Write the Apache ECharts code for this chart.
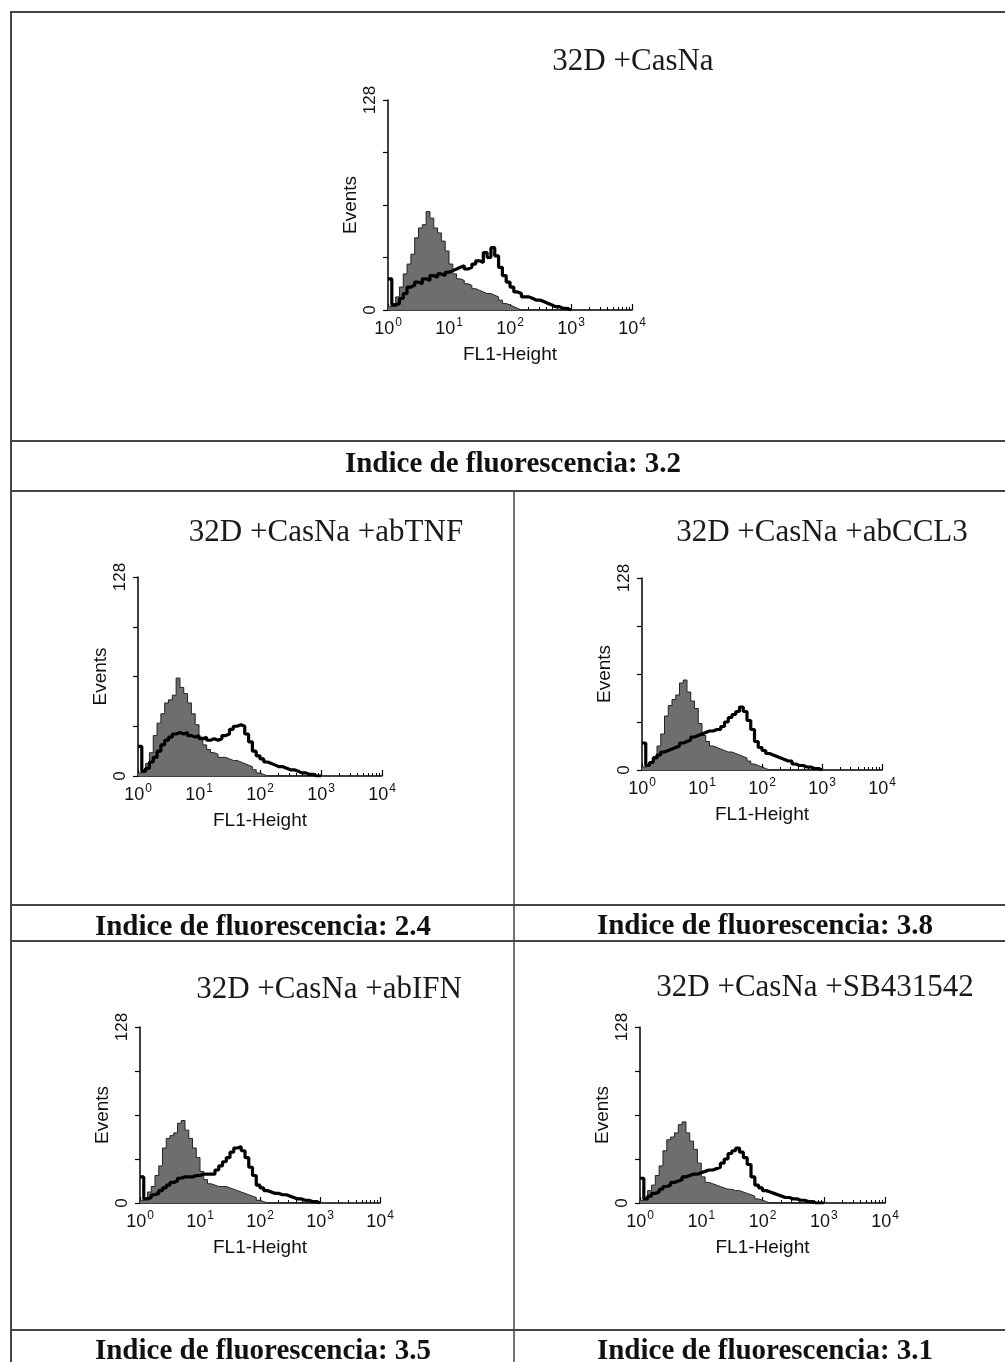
<!DOCTYPE html>
<html>
<head>
<meta charset="utf-8">
<script src="https://cdn.jsdelivr.net/npm/echarts@6/dist/echarts.min.js"></script>
<style>
  html, body { margin: 0; padding: 0; background: #fff; }
  #chart { width: 1005px; height: 1362px; }
</style>
</head>
<body>
<div id="chart"></div>
<script>
// FL1 channels: 16 bins per decade, starting at 10^0; counts
const BINS_PER_DECADE = 16;
const EVENTS_TICKS = [0, 32, 64, 96, 128];
const DECADE_EXPONENTS = [0, 1, 2, 3, 4];

const panel_titles = [
    "32D +CasNa",
    "32D +CasNa +abTNF",
    "32D +CasNa +abCCL3",
    "32D +CasNa +abIFN",
    "32D +CasNa +SB431542",
];
const fluor_index = ["3.2", "2.4", "3.8", "3.5", "3.1"];

// grey filled = control, black outline = stained
const control_casna = [2, 4, 8, 14, 22, 28, 34, 44, 50, 52, 60, 56, 50, 47, 42, 36,
    28, 22, 19, 18, 16, 15, 13, 12, 11, 10, 10, 9, 8, 6, 4, 3,
    2, 1, 0, 0, 0, 0, 0, 0, 0, 0, 0, 0, 0, 0, 0, 0];
const stained_casna = [19, 3, 4, 7, 10, 14, 15, 17, 16, 19, 18, 21, 20, 22, 21, 23,
    24, 25, 26, 27, 25, 26, 28, 30, 29, 35, 32, 38, 33, 26, 21, 17,
    14, 11, 10, 8, 8, 7, 6, 6, 5, 4, 3, 2, 2, 1, 1, 0];

const control_tnf = [2, 4, 8, 15, 26, 34, 40, 47, 49, 52, 63, 57, 53, 47, 40, 33,
    25, 20, 17, 15, 14, 12, 12, 11, 10, 10, 9, 8, 7, 6, 4, 2,
    1, 0, 0, 0, 0, 0, 0, 0, 0, 0, 0, 0, 0, 0, 0, 0];
const stained_tnf = [19, 3, 5, 9, 12, 16, 20, 23, 25, 27, 28, 27, 28, 26, 25, 26,
    24, 25, 23, 24, 23, 24, 26, 27, 30, 32, 33, 32, 27, 22, 16, 13,
    11, 9, 8, 7, 6, 6, 5, 4, 4, 3, 2, 2, 1, 1, 0, 0];

const control_ccl3 = [2, 3, 5, 9, 16, 24, 36, 43, 47, 50, 58, 60, 52, 46, 41, 31,
    23, 19, 16, 15, 14, 13, 12, 12, 11, 10, 9, 8, 6, 4, 3, 2,
    1, 0, 0, 0, 0, 0, 0, 0, 0, 0, 0, 0, 0, 0, 0, 0];
const stained_ccl3 = [18, 3, 5, 8, 10, 12, 13, 14, 15, 16, 18, 19, 20, 22, 23, 24,
    25, 26, 26, 27, 27, 29, 32, 35, 37, 39, 42, 39, 33, 27, 19, 15,
    13, 11, 10, 9, 8, 7, 6, 6, 4, 3, 3, 2, 2, 1, 1, 0];

const control_ifn = [2, 4, 8, 12, 20, 27, 40, 47, 49, 51, 58, 60, 53, 47, 40, 33,
    23, 17, 14, 13, 12, 12, 12, 11, 10, 9, 8, 7, 6, 5, 4, 2,
    1, 0, 0, 0, 0, 0, 0, 0, 0, 0, 0, 0, 0, 0, 0, 0];
const stained_ifn = [19, 3, 4, 6, 7, 9, 11, 13, 15, 16, 18, 19, 19, 19, 20, 20,
    21, 21, 21, 21, 24, 27, 30, 33, 37, 40, 41, 38, 33, 26, 20, 13,
    11, 9, 8, 7, 7, 6, 6, 5, 4, 3, 3, 2, 2, 1, 1, 0];

const control_sb = [2, 4, 9, 13, 20, 27, 38, 46, 48, 51, 57, 59, 51, 45, 39, 29,
    19, 15, 14, 13, 12, 11, 10, 10, 9, 9, 8, 7, 6, 5, 3, 2,
    1, 0, 0, 0, 0, 0, 0, 0, 0, 0, 0, 0, 0, 0, 0, 0];
const stained_sb = [18, 3, 5, 7, 8, 10, 12, 13, 15, 16, 17, 19, 20, 21, 21, 22,
    23, 24, 24, 25, 26, 29, 32, 36, 38, 40, 37, 33, 28, 19, 13, 11,
    9, 8, 7, 6, 5, 4, 4, 3, 3, 2, 2, 1, 1, 0, 0, 0];

const controls = [control_casna, control_tnf, control_ccl3, control_ifn, control_sb];
const stained = [stained_casna, stained_tnf, stained_ccl3, stained_ifn, stained_sb];

// layout of each cell
const panels = [
    { grid: { left: 388, top: 100, width: 244, height: 210 }, title: [633, 62], index: [513, 465] },
    { grid: { left: 138, top: 577, width: 244, height: 199 }, title: [326, 533], index: [263, 928] },
    { grid: { left: 642, top: 578, width: 240, height: 192 }, title: [822, 533], index: [765, 927] },
    { grid: { left: 140, top: 1027, width: 240, height: 176 }, title: [329, 990], index: [263, 1352] },
    { grid: { left: 640, top: 1027, width: 245, height: 176 }, title: [815, 988], index: [765, 1352] },
];

const SANS = "'Liberation Sans', Arial, sans-serif";
const SERIF = "'Liberation Serif', 'Times New Roman', serif";

function to_steps(counts) {
    const pts = counts.map((c, i) => [Math.pow(10, i / BINS_PER_DECADE), c]);
    pts.push([Math.pow(10, counts.length / BINS_PER_DECADE), 0]);
    return pts;
}

// minor log ticks 2..9 of each decade, placed on a hidden linear axis in log units
const minor_ticks = [];
DECADE_EXPONENTS.slice(0, -1).forEach((d) => {
    for (let m = 2; m <= 9; m++) minor_ticks.push(d + Math.log10(m));
});

const grids = [];
const xAxes = [];
const yAxes = [];
const series = [];
const graphics = [];

panels.forEach((p, i) => {
    grids.push(p.grid);
    xAxes.push({
        type: "log",
        logBase: 10,
        gridIndex: i,
        min: 1,
        max: 10000,
        name: "FL1-Height",
        nameLocation: "middle",
        nameGap: 35,
        nameTextStyle: { fontFamily: SANS, fontSize: 19, color: "#111" },
        axisLine: { lineStyle: { color: "#000", width: 1.5 } },
        axisTick: { inside: true, length: 6, lineStyle: { color: "#000", width: 1.2 } },
        splitLine: { show: false },
        axisLabel: {
            margin: 7,
            formatter: (v) => "{b|10}{s|" + Math.round(Math.log10(v)) + "}",
            rich: {
                b: { fontFamily: SANS, fontSize: 18, color: "#111", lineHeight: 24 },
                s: { fontFamily: SANS, fontSize: 12, color: "#111", lineHeight: 12, verticalAlign: "top", padding: [0, 0, 0, 1] },
            },
        },
    });
    yAxes.push({
        type: "value",
        gridIndex: i,
        min: 0,
        max: 128,
        interval: 32,
        name: "Events",
        nameLocation: "middle",
        nameGap: 28,
        nameRotate: 90,
        nameTextStyle: { fontFamily: SANS, fontSize: 19, color: "#111" },
        axisLine: { show: true, lineStyle: { color: "#000", width: 1.5 } },
        axisTick: { show: true, length: 5, lineStyle: { color: "#000", width: 1.2 } },
        splitLine: { show: false },
        axisLabel: {
            rotate: 90,
            margin: 9,
            fontFamily: SANS,
            fontSize: 17,
            color: "#111",
            formatter: (v) => (v === EVENTS_TICKS[0] || v === EVENTS_TICKS[EVENTS_TICKS.length - 1] ? String(v) : ""),
        },
    });
    series.push({
        type: "line",
        xAxisIndex: i,
        yAxisIndex: i,
        step: "end",
        symbol: "none",
        silent: true,
        z: 2,
        lineStyle: { color: "#222", width: 1 },
        areaStyle: { color: "#6e6e6e", opacity: 1 },
        data: to_steps(controls[i]),
    });
    series.push({
        type: "line",
        xAxisIndex: i,
        yAxisIndex: i,
        step: "end",
        symbol: "none",
        silent: true,
        z: 3,
        lineStyle: { color: "#000", width: 3.2 },
        data: to_steps(stained[i]),
    });
    graphics.push({
        type: "text",
        x: p.title[0],
        y: p.title[1],
        style: { text: panel_titles[i], font: "31px " + SERIF, fill: "#1a1a1a", align: "center", verticalAlign: "middle" },
    });
    graphics.push({
        type: "text",
        x: p.index[0],
        y: p.index[1],
        style: { text: "Indice de fluorescencia: " + fluor_index[i], font: "bold 29px " + SERIF, fill: "#111", align: "center", verticalAlign: "middle" },
    });
});

// minor tick axes overlaid on each grid
panels.forEach((p, i) => {
    xAxes.push({
        type: "value",
        gridIndex: i,
        min: 0,
        max: DECADE_EXPONENTS[DECADE_EXPONENTS.length - 1],
        position: "bottom",
        axisLine: { show: false },
        splitLine: { show: false },
        axisLabel: { show: false },
        axisTick: { show: true, inside: true, length: 3, customValues: minor_ticks, lineStyle: { color: "#000", width: 1 } },
    });
});

// table rules
const rule = (x1, y1, x2, y2, w) => ({
    type: "line",
    shape: { x1, y1, x2, y2 },
    style: { stroke: "#444", lineWidth: w || 2 },
    silent: true,
});
graphics.push(
    rule(11, 12, 1005, 12),
    rule(11, 11, 11, 1362),
    rule(11, 441, 1005, 441),
    rule(11, 491, 1005, 491),
    rule(514, 491, 514, 1362, 1.5),
    rule(11, 905, 1005, 905),
    rule(11, 941, 1005, 941),
    rule(11, 1330, 1005, 1330)
);

const chart = echarts.init(document.getElementById("chart"), null, { renderer: "canvas" });
chart.setOption({
    animation: false,
    backgroundColor: "#fff",
    grid: grids,
    xAxis: xAxes,
    yAxis: yAxes,
    series,
    graphic: graphics,
});
</script>
</body>
</html>
